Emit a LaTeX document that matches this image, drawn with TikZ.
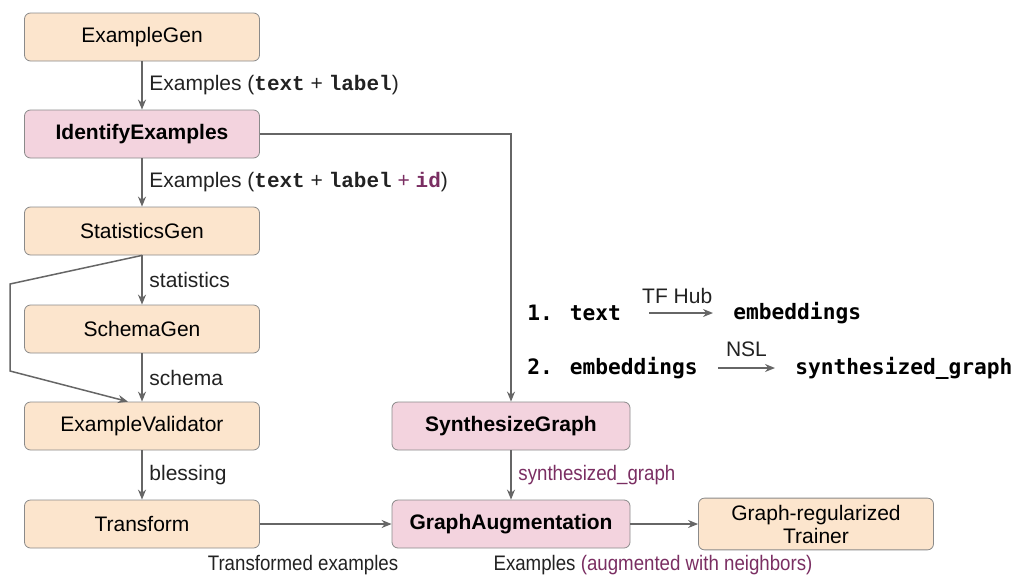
\documentclass[tikz,border=0pt]{standalone}
\usepackage{fontspec}
\setmainfont{Liberation Sans}
\setmonofont{Liberation Mono}
\newfontfamily\stepfont{DejaVu Sans Mono}
\newfontfamily\narrowfont{Liberation Sans}[FakeStretch=0.89]
\usepackage{xcolor}
\usetikzlibrary{positioning,arrows.meta,calc}

\definecolor{tfxfill}{HTML}{FCE5CD}
\definecolor{nslfill}{HTML}{F3D3DE}
\definecolor{boxline}{HTML}{8A8A8A}
\definecolor{flowgray}{HTML}{666666}
\definecolor{nslpurple}{HTML}{7A2E62}
\definecolor{inktext}{HTML}{222222}

\newcommand{\code}[1]{{\ttfamily\bfseries #1}}

\tikzset{
  stage/.style={draw=boxline, rounded corners=3pt, minimum width=117.5pt, minimum height=24pt,
                text=black, font=\fontsize{10.5}{12}\selectfont},
  tfxstage/.style={stage, fill=tfxfill},
  nslstage/.style={stage, fill=nslfill, font=\fontsize{10.5}{12}\selectfont\bfseries},
  flow/.style={->, draw=flowgray, line width=0.75pt},
  lbl/.style={text=inktext, font=\fontsize{10.5}{12}\selectfont},
  narrowlbl/.style={text=inktext, font=\fontsize{10.5}{12}\narrowfont},
  steptxt/.style={text=black, font=\fontsize{10.6}{12}\stepfont\bfseries, inner sep=0pt, anchor=west}
}

\begin{document}
\begin{tikzpicture}[x=0.5pt, y=-0.5pt, >={Stealth[length=5pt,width=4pt]}]
  \useasboundingbox (0,0) rectangle (1016,578);

  % TFX pipeline on the left
  \node[tfxstage] (gen)    at (142,37)  {ExampleGen};
  \node[nslstage] (ident)  at (142,134) {IdentifyExamples};
  \node[tfxstage] (stats)  at (142,231) {StatisticsGen};
  \node[tfxstage] (schema) at (142,329) {SchemaGen};
  \node[tfxstage] (valid)  at (142,426) {ExampleValidator};
  \node[tfxstage] (trans)  at (142,524) {Transform};

  % graph building stages
  \node[nslstage, minimum width=119pt] (synth) at (511,426) {SynthesizeGraph};
  \node[nslstage, minimum width=119pt] (augm)  at (511,524) {GraphAugmentation};
  \node[tfxstage, align=center, font=\fontsize{10.5}{11.5}\selectfont] (trainer) at (816,524) {Graph-regularized\\Trainer};

  % vertical chain
  \draw[flow] (gen) -- node[lbl, right] {Examples (\code{text} + \code{label})} (ident);
  \draw[flow] (ident) -- node[lbl, right] {Examples (\code{text} + \code{label} {\color{nslpurple}+ \code{id}})} (stats);
  \draw[flow] (stats) -- node[lbl, right] {statistics} (schema);
  \draw[flow] (schema) -- node[lbl, right] {schema} (valid);
  \draw[flow] (valid) -- node[lbl, right] {blessing} (trans);

  % statistics also go straight to the validator
  \coordinate (bypasstop) at (10,284);
  \coordinate (bypasslow) at (10,371);
  \draw[flow] (stats.south) -- (bypasstop) -- (bypasslow) -- ([xshift=-7pt]valid.north);

  % into the graph stages
  \draw[flow] (ident.east) -| (synth.north);
  \draw[flow] (synth) -- node[narrowlbl, right, text=nslpurple] {synthesized\_graph} (augm);
  \draw[flow] (trans) -- (augm);
  \draw[flow] (augm) -- (trainer);

  \node[narrowlbl] (translbl) at (303,565) {Transformed examples};
  \node[narrowlbl] (augmlbl)  at (653,565) {Examples {\color{nslpurple}(augmented with neighbors)}};

  % steps of SynthesizeGraph
  \node[steptxt] (txt)   at (527,313) {1. text};
  \node[steptxt] (emb)   at (733,313) {embeddings};
  \node[steptxt] (emb2)  at (527,368) {2. embeddings};
  \node[steptxt] (graph) at (795,368) {synthesized\_graph};

  \draw[flow, shorten <=14pt, shorten >=10pt] (txt) -- node[lbl, above=1pt] {TF Hub} (emb);
  \draw[flow, shorten <=10pt, shorten >=10pt] (emb2) -- node[lbl, above=2pt] {NSL} (graph.west);
\end{tikzpicture}
\end{document}
